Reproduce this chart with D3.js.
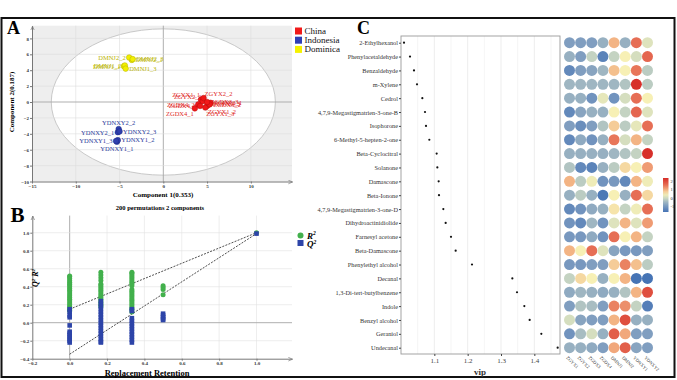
<!DOCTYPE html>
<meta charset="utf-8">
<script src="https://d3js.org/d3.v7.min.js"></script>
<style>
  body { margin: 0; background: #fff; }
  svg text { font-family: "Liberation Serif", "DejaVu Serif", serif; }
</style>
<body>
<div id="fig"></div>
<script>
// ---------------- data ----------------
// A: PLS-DA score plot (t1, t2)
var chinaLabels = ["ZGYX1_1","ZGYX1_2","ZGYX1_3","ZGYX2_1","ZGYX2_2","ZGYX2_3","ZGDX3_1","ZGDX3_2","ZGDX3_3","ZGDX4_1","ZGDX4_2","ZGDX4_3"];
var chinaT1 = [4.3, 5.0, 4.8, 4.5, 4.6, 5.2, 5.4, 5.3, 5.0, 3.6, 4.0, 4.2];
var chinaT2 = [0.3, -0.5, -0.7, 0.1, 0.5, -0.2, -0.1, -0.3, 0.0, -0.8, -0.3, -0.5];
var chinaSide = ["tl","br","br","tl","tr","r","r","r","r","bl","l","l"];

var indoLabels = ["YDNXY1_1","YDNXY1_2","YDNXY1_3","YDNXY2_1","YDNXY2_2","YDNXY2_3"];
var indoT1 = [-5.3, -5.2, -5.4, -5.2, -5.1, -5.0];
var indoT2 = [-5.0, -4.8, -4.9, -3.8, -3.4, -3.7];
var indoSide = ["b","r","l","l","t","r"];

var domLabels = ["DMNJ1_1","DMNJ1_2","DMNJ1_3","DMNJ2_1","DMNJ2_2","DMNJ2_3"];
var domT1 = [-4.5, -4.4, -4.3, -3.6, -3.9, -3.5];
var domT2 = [4.5, 4.6, 4.2, 5.3, 5.6, 5.4];
var domSide = ["l","l","r","r","l","r"];

var groupNames = ["China", "Indonesia", "Dominica"];
var xTicksA = [-15, -10, -5, 0, 5, 10];
var yTicksA = [-10, -8, -6, -4, -2, 0, 2, 4, 6, 8];

// B: permutation test (200 permutations)
var retention = [0, 0.167, 0.333, 0.5, 1];
var r2Perm = [
  [0.52, 0.51, 0.49, 0.47, 0.45, 0.43, 0.42, 0.40, 0.38, 0.36, 0.34, 0.32, 0.30, 0.28, 0.26, 0.24, 0.22, 0.20, 0.18, 0.16, 0.14, 0.13],
  [0.56, 0.53, 0.50, 0.47, 0.43, 0.42, 0.40, 0.38, 0.36, 0.34, 0.32, 0.30, 0.28, 0.26, 0.24, 0.22, 0.20, 0.18],
  [0.56, 0.55, 0.53, 0.51, 0.49, 0.47, 0.45, 0.43, 0.41, 0.37, 0.35, 0.33, 0.31, 0.29, 0.27, 0.25, 0.23, 0.21, 0.19, 0.17, 0.15, 0.12],
  [0.41, 0.39, 0.37, 0.31],
  [1.0]
];
var q2Perm = [
  [0.15, 0.12, 0.08, 0.06, -0.03, -0.10, -0.12, -0.14, -0.16, -0.18, -0.20, -0.22],
  [0.24, 0.21, 0.18, 0.15, 0.12, 0.09, 0.06, 0.03, 0.0, -0.03, -0.06, -0.09, -0.12, -0.15, -0.18, -0.21, -0.22],
  [0.15, 0.13, 0.05, 0.02, -0.01, -0.04, -0.07, -0.10, -0.13, -0.16, -0.19, -0.22],
  [0.10, 0.08, 0.06, 0.04, 0.03],
  [0.99]
];
var r2Intercept = 0.15, q2Intercept = -0.35;
var xTicksB = [-0.2, 0, 0.2, 0.4, 0.6, 0.8, 1];
var yTicksB = [-0.4, -0.2, 0, 0.2, 0.4, 0.6, 0.8, 1];

// C: VIP scores + z-score heatmap
var compounds = ["2-Ethylhexanol","Phenylacetaldehyde","Benzaldehyde","m-Xylene","Cedrol","4,7,9-Megastigmatrien-3-one-B","Isophorone","6-Methyl-5-hepten-2-one","Beta-Cyclocitral","Solanone","Damascone","Beta-Ionone","4,7,9-Megastigmatrien-3-one-D","Dihydroactinidiolide","Farnesyl acetone","Beta-Damascone","Phenylethyl alcohol","Decanal","1,3-Di-tert-butylbenzene","Indole","Benzyl alcohol","Geraniol","Undecanal"];
var vip = [1.009, 1.027, 1.039, 1.048, 1.064, 1.072, 1.075, 1.085, 1.107, 1.109, 1.113, 1.114, 1.127, 1.134, 1.150, 1.164, 1.213, 1.334, 1.348, 1.370, 1.386, 1.421, 1.470];
var samples = ["ZGYX1","ZGYX2","ZGDX3","ZGDX4","DMNJ1","DMNJ2","YDNXY1","YDNXY2"];
var zscore = [
  [-0.9, -0.9, -0.9, -0.6, 1.0, -0.6, 1.6, 0.2],
  [-0.6, -0.9, -0.1, -1.4, -0.1, 0.5, 0.1, 1.7],
  [-1.3, -0.9, -0.8, -0.5, 0.9, 0.5, 1.5, -0.2],
  [-0.5, -0.5, -0.5, -0.5, -0.5, -0.3, 2.4, -0.2],
  [-0.6, -0.6, -1.1, 0.3, -1.1, 0.1, 1.6, 0.5],
  [-1.3, -0.8, -0.6, -0.6, 0.5, -0.1, 1.7, 0.2],
  [-0.9, -1.2, -0.9, -0.3, 0.8, -0.2, 0.3, 1.6],
  [-1.3, -0.7, -1.1, -0.6, 1.5, 0.1, 1.0, -0.1],
  [-0.6, -0.6, -0.6, -0.6, -0.5, -0.3, -0.1, 2.4],
  [-0.3, -1.3, -1.4, -0.6, -0.2, 0.7, 0.5, 1.2],
  [1.0, -0.2, 0.4, -1.1, -1.0, -1.3, 1.0, 0.4],
  [-0.6, -0.2, -0.6, -1.6, 0.5, -0.6, 1.6, 0.7],
  [-1.3, -1.1, -0.7, -0.6, 0.6, -0.1, 0.4, 1.6],
  [-1.1, -1.3, -0.5, -1.1, 0.2, 1.0, 0.2, 1.2],
  [-1.0, -1.0, -0.7, -1.1, 1.6, 0.5, 1.0, -0.1],
  [1.0, 0.5, 1.6, 0.2, -0.8, -1.0, -1.0, -0.9],
  [-1.0, -1.0, -0.9, -0.9, 0.8, 1.4, 0.9, -0.2],
  [-0.1, 0.7, 0.5, -0.6, 0.5, 1.0, -1.7, -1.7],
  [-0.7, -0.5, -0.6, -0.7, -0.6, -0.3, 1.0, 2.0],
  [-0.9, -0.3, -0.4, -0.9, 1.4, 1.3, -0.1, -1.5],
  [0.1, -0.8, -0.9, -0.9, 1.0, 2.0, -0.6, -0.6],
  [-1.1, -0.4, 0.1, -0.6, 1.8, 1.1, -0.9, -0.9],
  [-0.6, -0.6, -0.7, -0.9, 1.1, 1.8, -0.8, -0.9]
];
var xTicksC = [1.1, 1.2, 1.3, 1.4];
var legendTicksC = [2, 1, 0, -1];

// ---------------- svg ----------------
var svg = d3.select("#fig").append("svg")
  .attr("width", 677).attr("height", 380);
svg.append("rect").attr("width", 677).attr("height", 380).attr("fill", "#fff");

var defs = svg.append("defs");
defs.append("marker")
  .attr("id", "arr").attr("viewBox", "0 0 6 6")
  .attr("refX", 5).attr("refY", 3)
  .attr("markerWidth", 5).attr("markerHeight", 5)
  .attr("orient", "auto")
  .append("path").attr("d", "M0,0.8 L5,3 L0,5.2").attr("fill", "none").attr("stroke", "#777").attr("stroke-width", 0.8);

// outer frame
svg.append("rect")
  .attr("x", 1.5).attr("y", 18).attr("width", 673).attr("height", 359)
  .attr("fill", "none").attr("stroke", "#111").attr("stroke-width", 2);

function styleAxis(g) {
  g.select(".domain").attr("stroke", "#777").attr("marker-end", "url(#arr)");
  g.selectAll(".tick line").attr("stroke", "#777");
  g.selectAll(".tick text").attr("font-size", 5).attr("font-weight", "bold").attr("fill", "#333")
    .style("font-family", "Liberation Serif");
}

// ---------------- Panel A ----------------
var xA = d3.scaleLinear().domain([-15, 14.7]).range([32, 292]);
var yA = d3.scaleLinear().domain([-10, 9.6]).range([181.5, 25.7]);

svg.append("rect")
  .attr("x", xA(-15)).attr("y", yA(9.6))
  .attr("width", xA(14.7) - xA(-15)).attr("height", yA(-10) - yA(9.6))
  .attr("fill", "#eeeeee");

svg.append("ellipse")
  .attr("cx", xA(0)).attr("cy", yA(0))
  .attr("rx", xA(12.8) - xA(0)).attr("ry", yA(0) - yA(9.2))
  .attr("fill", "#fff").attr("stroke", "#bdbdbd").attr("stroke-width", 0.8);

// grid
svg.append("g").selectAll("line").data(xTicksA.slice(1)).enter().append("line")
  .attr("x1", function(d) { return xA(d); }).attr("x2", function(d) { return xA(d); })
  .attr("y1", yA(9.6)).attr("y2", yA(-10))
  .attr("stroke", function(d) { return d === 0 ? "#a6a6a6" : "#dedede"; })
  .attr("stroke-width", function(d) { return d === 0 ? 0.9 : 0.6; });
svg.append("g").selectAll("line").data(yTicksA.slice(1)).enter().append("line")
  .attr("x1", xA(-15)).attr("x2", xA(14.7))
  .attr("y1", function(d) { return yA(d); }).attr("y2", function(d) { return yA(d); })
  .attr("stroke", function(d) { return d === 0 ? "#a6a6a6" : "#dedede"; })
  .attr("stroke-width", function(d) { return d === 0 ? 0.9 : 0.6; });

svg.append("g").attr("transform", "translate(0," + yA(-10) + ")")
  .call(d3.axisBottom(xA).tickValues(xTicksA).tickSize(2).tickPadding(1).tickSizeOuter(0))
  .call(styleAxis);
svg.append("g").attr("transform", "translate(" + xA(-15) + ",0)")
  .call(d3.axisLeft(yA).tickValues(yTicksA).tickSize(2).tickPadding(1).tickSizeOuter(0))
  .call(styleAxis);
// left axis arrow points up
svg.selectAll("g").filter(function() { return false; });

svg.append("text").attr("x", 163).attr("y", 197)
  .attr("text-anchor", "middle").attr("font-size", 7).attr("font-weight", "bold")
  .text("Component 1(0.353)");
svg.append("text").attr("transform", "translate(14,102) rotate(-90)")
  .attr("text-anchor", "middle").attr("font-size", 7).attr("font-weight", "bold")
  .text("Component 2(0.187)");

function labelPos(side, x, y) {
  switch (side) {
    case "l": return [x - 3.5, y + 2.3, "end"];
    case "r": return [x + 3.5, y + 2.3, "start"];
    case "t": return [x, y - 4.5, "middle"];
    case "b": return [x, y + 9, "middle"];
    case "tl": return [x - 1, y - 2.5, "end"];
    case "tr": return [x + 1, y - 2.5, "start"];
    case "bl": return [x - 1, y + 8, "end"];
    default: return [x + 1, y + 8, "start"];
  }
}

var groups = [
  {labels: indoLabels, t1: indoT1, t2: indoT2, side: indoSide, fill: "#2f3fae", stroke: "#1d2b86", text: "#2a3a9a"},
  {labels: domLabels, t1: domT1, t2: domT2, side: domSide, fill: "#f2ef00", stroke: "#b5b000", text: "#b9b400"},
  {labels: chinaLabels, t1: chinaT1, t2: chinaT2, side: chinaSide, fill: "#f01818", stroke: "#b80d0d", text: "#e01f1f"}
];

groups.forEach(function(gr) {
  var pts = gr.labels.map(function(l, i) { return {label: l, x: gr.t1[i], y: gr.t2[i], side: gr.side[i]}; });
  var g = svg.append("g");
  g.selectAll("text").data(pts).enter().append("text")
    .each(function(d) {
      var p = labelPos(d.side, xA(d.x), yA(d.y));
      d3.select(this).attr("x", p[0]).attr("y", p[1]).attr("text-anchor", p[2]);
    })
    .attr("font-size", 6.5).attr("fill", gr.text)
    .text(function(d) { return d.label; });
  g.selectAll("circle").data(pts).enter().append("circle")
    .attr("cx", function(d) { return xA(d.x); })
    .attr("cy", function(d) { return yA(d.y); })
    .attr("r", 2.8)
    .attr("fill", gr.fill).attr("stroke", gr.stroke).attr("stroke-width", 0.5);
});

// legend A
var legColors = ["#f01a1a", "#2f3fb5", "#f5f200"];
var legA = svg.append("g");
groupNames.forEach(function(n, i) {
  legA.append("rect").attr("x", 295).attr("y", 27.5 + i * 9.2).attr("width", 7).attr("height", 7)
    .attr("fill", legColors[i]);
  legA.append("text").attr("x", 304.5).attr("y", 34 + i * 9.2)
    .attr("font-size", 9).attr("fill", "#111").text(n);
});

svg.append("text").attr("x", 7).attr("y", 33.5)
  .attr("font-size", 18).attr("font-weight", "bold").text("A");

// ---------------- Panel B ----------------
var xB = d3.scaleLinear().domain([-0.2, 1.19]).range([32.3, 292]);
var yB = d3.scaleLinear().domain([-0.4, 1.19]).range([358.7, 215.6]);

svg.append("g").selectAll("line").data(xTicksB.slice(1)).enter().append("line")
  .attr("x1", function(d) { return xB(d); }).attr("x2", function(d) { return xB(d); })
  .attr("y1", yB(1.19)).attr("y2", yB(-0.4))
  .attr("stroke", function(d) { return d === 0 ? "#a6a6a6" : "#e2e2e2"; })
  .attr("stroke-width", function(d) { return d === 0 ? 0.9 : 0.6; });
svg.append("g").selectAll("line").data(yTicksB.slice(1)).enter().append("line")
  .attr("x1", xB(-0.2)).attr("x2", xB(1.19))
  .attr("y1", function(d) { return yB(d); }).attr("y2", function(d) { return yB(d); })
  .attr("stroke", function(d) { return d === 0 ? "#a6a6a6" : "#e2e2e2"; })
  .attr("stroke-width", function(d) { return d === 0 ? 0.9 : 0.6; });

svg.append("g").attr("transform", "translate(0," + yB(-0.4) + ")")
  .call(d3.axisBottom(xB).tickValues(xTicksB).tickSize(2).tickPadding(1).tickSizeOuter(0))
  .call(styleAxis);
svg.append("g").attr("transform", "translate(" + xB(-0.2) + ",0)")
  .call(d3.axisLeft(yB).tickValues(yTicksB).tickSize(2).tickPadding(1).tickSizeOuter(0))
  .call(styleAxis);

// regression lines
[[r2Intercept, 1.0], [q2Intercept, 0.99]].forEach(function(l) {
  svg.append("line")
    .attr("x1", xB(0)).attr("y1", yB(l[0]))
    .attr("x2", xB(1)).attr("y2", yB(l[1]))
    .attr("stroke", "#222").attr("stroke-width", 0.8).attr("stroke-dasharray", "2,1.3");
});

var r2Pts = [], q2Pts = [];
retention.forEach(function(r, i) {
  r2Perm[i].forEach(function(v) { r2Pts.push({x: r, y: v}); });
  q2Perm[i].forEach(function(v) { q2Pts.push({x: r, y: v}); });
});
svg.append("g").selectAll("circle").data(r2Pts).enter().append("circle")
  .attr("cx", function(d) { return xB(d.x); })
  .attr("cy", function(d) { return yB(d.y); })
  .attr("r", 2.5).attr("fill", "#42b04c");
svg.append("g").selectAll("rect").data(q2Pts).enter().append("rect")
  .attr("x", function(d) { return xB(d.x) - 2.3; })
  .attr("y", function(d) { return yB(d.y) - 2.3; })
  .attr("width", 4.6).attr("height", 4.6).attr("fill", "#2d44a8");

svg.append("text").attr("x", 160).attr("y", 209.5)
  .attr("text-anchor", "middle").attr("font-size", 6.5).attr("font-weight", "bold")
  .text("200 permutations 2 components");
svg.append("text").attr("x", 147).attr("y", 376)
  .attr("text-anchor", "middle").attr("font-size", 8.5).attr("font-weight", "bold")
  .text("Replacement  Retention");

var yl = svg.append("text").attr("transform", "translate(38,278) rotate(-90)")
  .attr("text-anchor", "middle").attr("font-size", 8).attr("font-weight", "bold").attr("font-style", "italic");
yl.append("tspan").text("Q");
yl.append("tspan").attr("font-size", 5).attr("dy", -3).text("2");
yl.append("tspan").attr("dy", 3).text(" R");
yl.append("tspan").attr("font-size", 5).attr("dy", -3).text("2");

// legend B
svg.append("circle").attr("cx", 300.5).attr("cy", 235.5).attr("r", 3).attr("fill", "#42b04c");
svg.append("rect").attr("x", 297.5).attr("y", 240).attr("width", 6).attr("height", 6).attr("fill", "#2d44a8");
["R", "Q"].forEach(function(s, i) {
  var t = svg.append("text").attr("x", 307).attr("y", 238.5 + i * 8.5)
    .attr("font-size", 9).attr("font-weight", "bold").attr("font-style", "italic");
  t.append("tspan").text(s);
  t.append("tspan").attr("font-size", 5.5).attr("dy", -3.5).text("2");
});

svg.append("text").attr("x", 10.5).attr("y", 222)
  .attr("font-size", 21).attr("font-weight", "bold").text("B");

// ---------------- Panel C ----------------
var xC = d3.scaleLinear().domain([1.0, 1.477]).range([401, 560]);
var yC = d3.scalePoint().domain(compounds).range([42.7, 347.7]);

svg.append("g").selectAll("line").data(d3.range(1.05, 1.46, 0.05)).enter().append("line")
  .attr("x1", function(d) { return xC(d); }).attr("x2", function(d) { return xC(d); })
  .attr("y1", 36).attr("y2", 354)
  .attr("stroke", "#ebebeb").attr("stroke-width", function(d, i) { return i % 2 ? 0.9 : 0.5; });

svg.append("rect").attr("x", 401).attr("y", 36).attr("width", 159).attr("height", 318)
  .attr("fill", "none").attr("stroke", "#9a9a9a").attr("stroke-width", 0.9);

var axC = svg.append("g").attr("transform", "translate(0,354)")
  .call(d3.axisBottom(xC).tickValues(xTicksC).tickFormat(d3.format(".1f")).tickSize(2).tickPadding(2));
axC.select(".domain").remove();
axC.selectAll("line").attr("stroke", "#444");
axC.selectAll("text").attr("font-size", 7).attr("fill", "#444").style("font-family", "Liberation Serif");

var ayC = svg.append("g").attr("transform", "translate(401,0)")
  .call(d3.axisLeft(yC).tickSize(2).tickPadding(1));
ayC.select(".domain").remove();
ayC.selectAll("line").attr("stroke", "#444");
ayC.selectAll("text").attr("font-size", 6.3).attr("fill", "#333").style("font-family", "Liberation Serif");

svg.append("g").selectAll("circle").data(vip).enter().append("circle")
  .attr("cx", function(d) { return xC(d); })
  .attr("cy", function(d, i) { return yC(compounds[i]); })
  .attr("r", 1.1).attr("fill", "#111");

svg.append("text").attr("x", 480).attr("y", 375)
  .attr("text-anchor", "middle").attr("font-size", 9).attr("font-weight", "bold").attr("fill", "#333")
  .text("vip");

// heatmap
var color = d3.scaleLinear()
  .domain([-1.7, -1.0, -0.5, 0, 0.5, 1.0, 1.5, 2.4])
  .range(["#4674b5", "#7898bf", "#9fb6c2", "#cddac2", "#f7f0b5", "#f3b484", "#e8765a", "#d7302a"]);
var xH = d3.scalePoint().domain(samples).range([569.5, 647.5]);

var cells = [];
zscore.forEach(function(row, i) {
  row.forEach(function(v, j) { cells.push({c: compounds[i], s: samples[j], v: v}); });
});
svg.append("g").selectAll("circle").data(cells).enter().append("circle")
  .attr("cx", function(d) { return xH(d.s); })
  .attr("cy", function(d) { return yC(d.c); })
  .attr("r", 5.5)
  .attr("fill", function(d) { return color(d.v); });

svg.append("g").selectAll("text").data(samples).enter().append("text")
  .attr("transform", function(d) { return "translate(" + (xH(d) - 3.5) + ",358) rotate(45)"; })
  .attr("font-size", 4.6).attr("fill", "#444").text(function(d) { return d; });

// colour legend
var grad = defs.append("linearGradient").attr("id", "hg")
  .attr("x1", 0).attr("y1", 1).attr("x2", 0).attr("y2", 0);
d3.range(0, 1.001, 0.1).forEach(function(t) {
  grad.append("stop").attr("offset", t).attr("stop-color", color(-1.7 + t * 4.15));
});
var yLeg = d3.scaleLinear().domain([-1.7, 2.45]).range([212, 178]);
svg.append("rect").attr("x", 663).attr("y", 178).attr("width", 5.5).attr("height", 34)
  .attr("fill", "url(#hg)");
svg.append("g").selectAll("text").data(legendTicksC).enter().append("text")
  .attr("x", 670.5).attr("y", function(d) { return yLeg(d) + 1.6; })
  .attr("font-size", 4.5).attr("fill", "#333").text(function(d) { return d; });

svg.append("text").attr("x", 357).attr("y", 33.5)
  .attr("font-size", 18).attr("font-weight", "bold").text("C");
</script>
</body>
